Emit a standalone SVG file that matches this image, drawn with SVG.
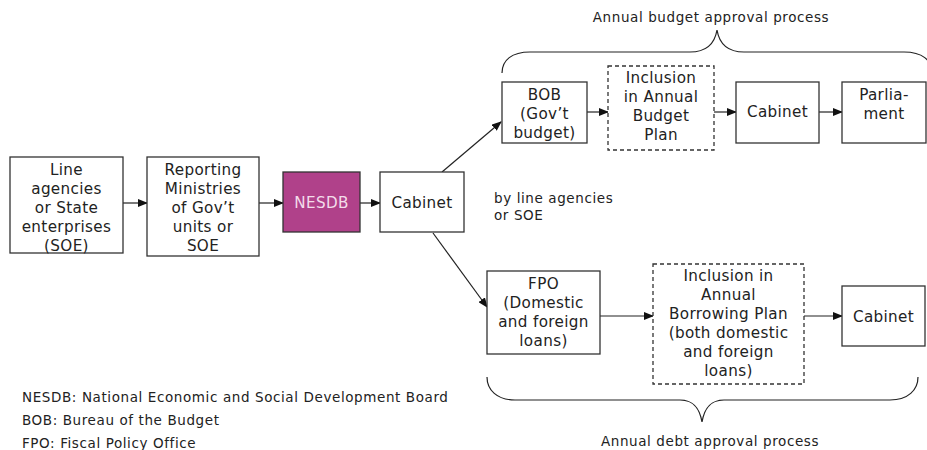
<svg xmlns="http://www.w3.org/2000/svg" width="927" height="450" viewBox="0 0 927 450">
<defs>
<style>
.box{fill:#fff;stroke:#333;stroke-width:1.3}
.dash{fill:#fff;stroke:#333;stroke-width:1.3;stroke-dasharray:4,3}
.t{font-family:"DejaVu Sans",Verdana,sans-serif;font-size:15.2px;letter-spacing:0.35px;fill:#222;text-anchor:middle}
.s{font-family:"DejaVu Sans",Verdana,sans-serif;font-size:13.5px;letter-spacing:0.6px;fill:#222}
.c{stroke:#222;stroke-width:1.2;fill:none}
</style>
<marker id="ah" markerWidth="10" markerHeight="8" refX="9" refY="4" orient="auto" markerUnits="userSpaceOnUse">
<path d="M0,0 L10,4 L0,8 Z" fill="#111"/>
</marker>
</defs>
<rect width="927" height="450" fill="#fff"/>

<g id="connectors">
<line class="c" x1="123" y1="203" x2="147" y2="203" marker-end="url(#ah)"/>
<line class="c" x1="259" y1="203" x2="283" y2="203" marker-end="url(#ah)"/>
<line class="c" x1="360" y1="203" x2="380" y2="203" marker-end="url(#ah)"/>
<line class="c" x1="442" y1="172" x2="501" y2="122" marker-end="url(#ah)"/>
<line class="c" x1="433" y1="233" x2="487" y2="307" marker-end="url(#ah)"/>
<line class="c" x1="586" y1="112" x2="608" y2="112" marker-end="url(#ah)"/>
<line class="c" x1="714" y1="112" x2="736" y2="112" marker-end="url(#ah)"/>
<line class="c" x1="819" y1="112" x2="842" y2="112" marker-end="url(#ah)"/>
<line class="c" x1="600" y1="316" x2="653" y2="316" marker-end="url(#ah)"/>
<line class="c" x1="804" y1="316" x2="842" y2="316" marker-end="url(#ah)"/>
</g>

<g id="n1">
<rect class="box" x="10" y="157" width="113" height="96"/>
<text class="t" x="66.5" y="175">Line</text>
<text class="t" x="66.5" y="194">agencies</text>
<text class="t" x="66.5" y="213">or State</text>
<text class="t" x="66.5" y="232">enterprises</text>
<text class="t" x="66.5" y="251">(SOE)</text>
</g>
<g id="n2">
<rect class="box" x="147" y="157" width="112" height="99"/>
<text class="t" x="203" y="175">Reporting</text>
<text class="t" x="203" y="194">Ministries</text>
<text class="t" x="203" y="213">of Gov’t</text>
<text class="t" x="203" y="232">units or</text>
<text class="t" x="203" y="251">SOE</text>
</g>
<g id="nesdb">
<rect x="283" y="172" width="77" height="60" fill="#B0418A" stroke="#333" stroke-width="1.3"/>
<text class="t" x="321.5" y="208" style="fill:#f3dcea">NESDB</text>
</g>
<g id="cabinet1">
<rect class="box" x="380" y="172" width="84" height="60"/>
<text class="t" x="422" y="208">Cabinet</text>
</g>
<g id="bob">
<rect class="box" x="502" y="82" width="85" height="61"/>
<text class="t" x="544.5" y="100">BOB</text>
<text class="t" x="544.5" y="119">(Gov’t</text>
<text class="t" x="544.5" y="138">budget)</text>
</g>
<g id="inclusion1">
<rect class="dash" x="608" y="66" width="106" height="84"/>
<text class="t" x="661" y="83">Inclusion</text>
<text class="t" x="661" y="102">in Annual</text>
<text class="t" x="661" y="121">Budget</text>
<text class="t" x="661" y="140">Plan</text>
</g>
<g id="cabinet2">
<rect class="box" x="736" y="82" width="83" height="61"/>
<text class="t" x="777.5" y="117">Cabinet</text>
</g>
<g id="parliament">
<rect class="box" x="842" y="82" width="84" height="61"/>
<text class="t" x="884" y="100">Parlia-</text>
<text class="t" x="884" y="119">ment</text>
</g>
<g id="fpo">
<rect class="box" x="487" y="271" width="113" height="83"/>
<text class="t" x="543.5" y="289">FPO</text>
<text class="t" x="543.5" y="308">(Domestic</text>
<text class="t" x="543.5" y="327">and foreign</text>
<text class="t" x="543.5" y="346">loans)</text>
</g>
<g id="inclusion2">
<rect class="dash" x="653" y="264" width="151" height="120"/>
<text class="t" x="728.5" y="281">Inclusion in</text>
<text class="t" x="728.5" y="300">Annual</text>
<text class="t" x="728.5" y="319">Borrowing Plan</text>
<text class="t" x="728.5" y="338">(both domestic</text>
<text class="t" x="728.5" y="357">and foreign</text>
<text class="t" x="728.5" y="376">loans)</text>
</g>
<g id="cabinet3">
<rect class="box" x="842" y="286" width="83" height="60"/>
<text class="t" x="883.5" y="322">Cabinet</text>
</g>

<g id="braces">
<path class="c" d="M502,73 C502,60 512,52 530,52 L690,52 C708,52 715,42 717,30 C719,42 726,52 744,52 L904,52 C922,52 932,60 932,73"/>
<path class="c" d="M487,377 C487,390 497,400 515,400 L680,400 C695,400 700,410 702,422 C704,410 709,400 724,400 L890,400 C908,400 918,390 918,377"/>
</g>

<g id="labels">
<text class="s" x="711" y="22" text-anchor="middle">Annual budget approval process</text>
<text class="s" x="710" y="446" text-anchor="middle">Annual debt approval process</text>
<text class="s" x="494" y="203">by line agencies</text>
<text class="s" x="494" y="220">or SOE</text>
<text class="s" x="22" y="402">NESDB: National Economic and Social Development Board</text>
<text class="s" x="22" y="425">BOB: Bureau of the Budget</text>
<text class="s" x="22" y="448">FPO: Fiscal Policy Office</text>
</g>
</svg>
